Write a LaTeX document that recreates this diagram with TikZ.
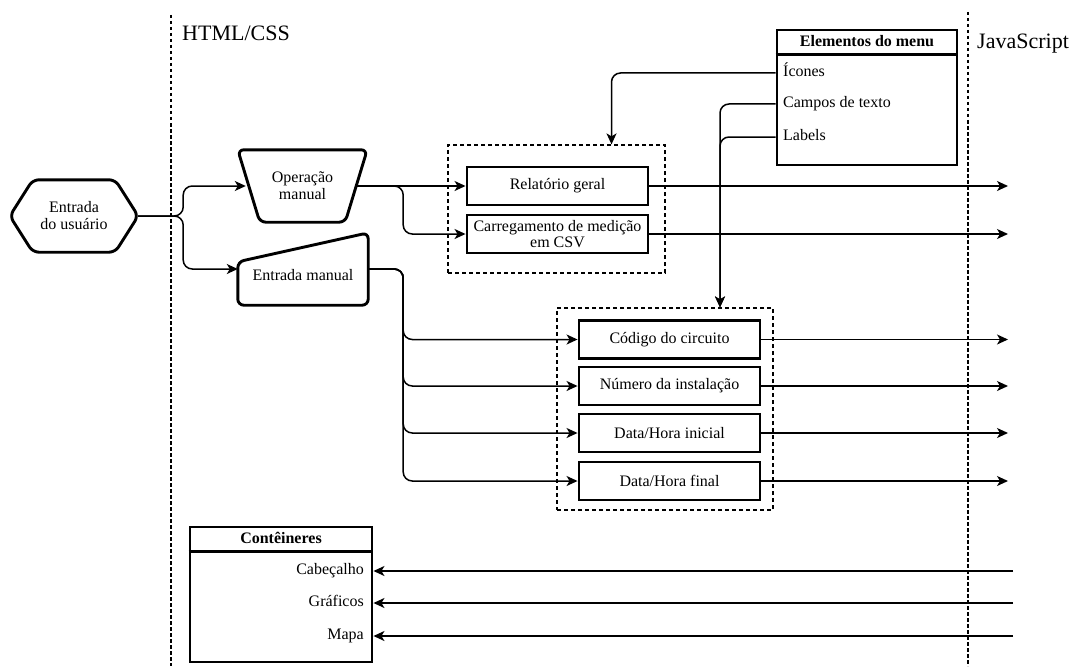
\documentclass[tikz,border=0pt]{standalone}
\usepackage{fontspec}
\setmainfont{Liberation Serif}
\usetikzlibrary{arrows.meta,calc}

\tikzset{
  txt/.style={inner sep=0pt, font=\fontsize{16}{17}\selectfont},
  one/.style={txt, text height=11pt, text depth=3.5pt},
  boxnode/.style={draw, line width=2.9pt, minimum width=181pt, minimum height=38pt,
                  inner sep=0pt, align=center, font=\fontsize{16}{17}\selectfont},
  frame/.style={draw, line width=2.9pt, inner sep=0pt},
  shapeline/.style={line width=2.9pt, rounded corners=6pt, line join=round},
  conn/.style={line width=1.5pt, rounded corners=9pt},
  arr/.style={conn, -{Stealth[length=11pt,width=10pt,inset=3pt]}},
  group/.style={draw, line width=1.2pt, dash pattern=on 4pt off 3pt, inner sep=0pt},
  lane/.style={line width=1.8pt, dash pattern=on 3.5pt off 2.5pt},
  lanelbl/.style={anchor=west, inner sep=0pt, font=\fontsize{22}{24}\selectfont},
}

\begin{document}
\begin{tikzpicture}[x=1pt,y=-1pt]
\useasboundingbox (0,0) rectangle (1083,666);

% swim-lane separators and titles
\draw[lane] (171,15) -- (171,666);
\draw[lane] (968,12) -- (968,666);
\node[lanelbl] (html) at (182,33) {HTML/CSS};
\node[lanelbl] (js) at (977,44) {JavaScript};

% user entry (hexagon)
\node[txt, align=center, minimum width=128pt, minimum height=72pt] (user) at (74,216) {Entrada\\do usuário};
\draw[shapeline] (user.north) -- ([xshift=-23pt]user.north east) -- (user.east)
  -- ([xshift=-23pt]user.south east) -- ([xshift=23pt]user.south west)
  -- (user.west) -- ([xshift=23pt]user.north west) -- cycle;

% manual operation (inverted trapezium)
\node[txt, align=center, minimum width=129pt, minimum height=72pt] (op) at (302.5,186) {Operação\\manual};
\draw[shapeline] (op.north) -- (op.north east) -- ([xshift=-22pt]op.south east)
  -- ([xshift=22pt]op.south west) -- (op.north west) -- cycle;

% manual input
\node[minimum width=130pt, minimum height=72pt, inner sep=0pt] (man) at (303,269) {};
\draw[shapeline] (man.south) -- (man.south west) -- ([yshift=-29pt]man.north west)
  -- (man.north east) -- (man.south east) -- cycle;
\node[one] (manlbl) at (303,277) {Entrada manual};

% dashed groups
\node[group, minimum width=217pt, minimum height=128pt] (g1) at (556.5,209) {};
\node[group, minimum width=216pt, minimum height=202pt] (g2) at (665,409) {};

% report / upload boxes
\node[boxnode] (rel) at (557.5,186) {Relatório geral};
\node[boxnode] (csv) at (557.5,234) {Carregamento de medição\\[-1pt]em CSV};

% manual input fields
\node[boxnode] (cod) at (669.5,339.5) {Código do circuito};
\node[boxnode] (num) at (669.5,386) {Número da instalação};
\node[boxnode] (dti) at (669.5,433) {Data/Hora inicial};
\node[boxnode] (dtf) at (669.5,481) {Data/Hora final};

% menu elements
\node[frame, minimum width=180pt, minimum height=135pt] (menu) at (867,97.5) {};
\draw[line width=2.9pt] ([yshift=-26pt]menu.north west) -- ([yshift=-26pt]menu.north east);
\node[one, font=\fontsize{16}{17}\selectfont\bfseries] (menut) at (867,43) {Elementos do menu};
\node[one, anchor=west] (ico) at (783,73) {Ícones};
\node[one, anchor=west] (cam) at (783,104) {Campos de texto};
\node[one, anchor=west] (lab) at (783,137) {Labels};

% containers
\node[frame, minimum width=182pt, minimum height=135pt] (cont) at (281,594.5) {};
\draw[line width=2.9pt] ([yshift=-26pt]cont.north west) -- ([yshift=-26pt]cont.north east);
\node[one, font=\fontsize{16}{17}\selectfont\bfseries] (contt) at (281,540) {Contêineres};
\node[one, anchor=east] (cab) at (364,571) {Cabeçalho};
\node[one, anchor=east] (gra) at (364,603) {Gráficos};
\node[one, anchor=east] (mapa) at (364,636) {Mapa};

% connector end points
\coordinate (opin) at ($(op.west)+(8,0)$);
\coordinate (opout) at ($(op.east)+(-10,0)$);
\coordinate (g1in) at ([xshift=55pt]g1.north);
\coordinate (g2in) at ([xshift=55pt]g2.north);
\coordinate (jsr) at (1008,0);
\coordinate (jsl) at (1013,0);

% user entry split
\draw[arr] (user.east) -- ++(45,0) |- (opin);
\draw[arr] (user.east) -- ++(45,0) |- (man.west);

% manual operation outputs
\draw[arr] (opout) -- (rel.west);
\draw[arr] (opout) -- ++(46,0) |- (csv.west);

% manual input outputs
\draw[arr] (man.east) -- ++(35,0) |- (cod.west);
\draw[arr] (man.east) -- ++(35,0) |- (num.west);
\draw[arr] (man.east) -- ++(35,0) |- (dti.west);
\draw[arr] (man.east) -- ++(35,0) |- (dtf.west);

% menu element links
\draw[arr] (menu.west |- ico) -| (g1in);
\draw[arr] (menu.west |- cam) -| (g2in);
\draw[arr] (menu.west |- lab) -| (g2in);

% to JavaScript
\foreach \b in {rel,csv,cod,num,dti,dtf}
  \draw[arr] (\b.east) -- (\b.east -| jsr);

% from JavaScript
\foreach \c in {cab,gra,mapa}
  \draw[arr] (jsl |- \c) -- (cont.east |- \c);
\end{tikzpicture}
\end{document}
